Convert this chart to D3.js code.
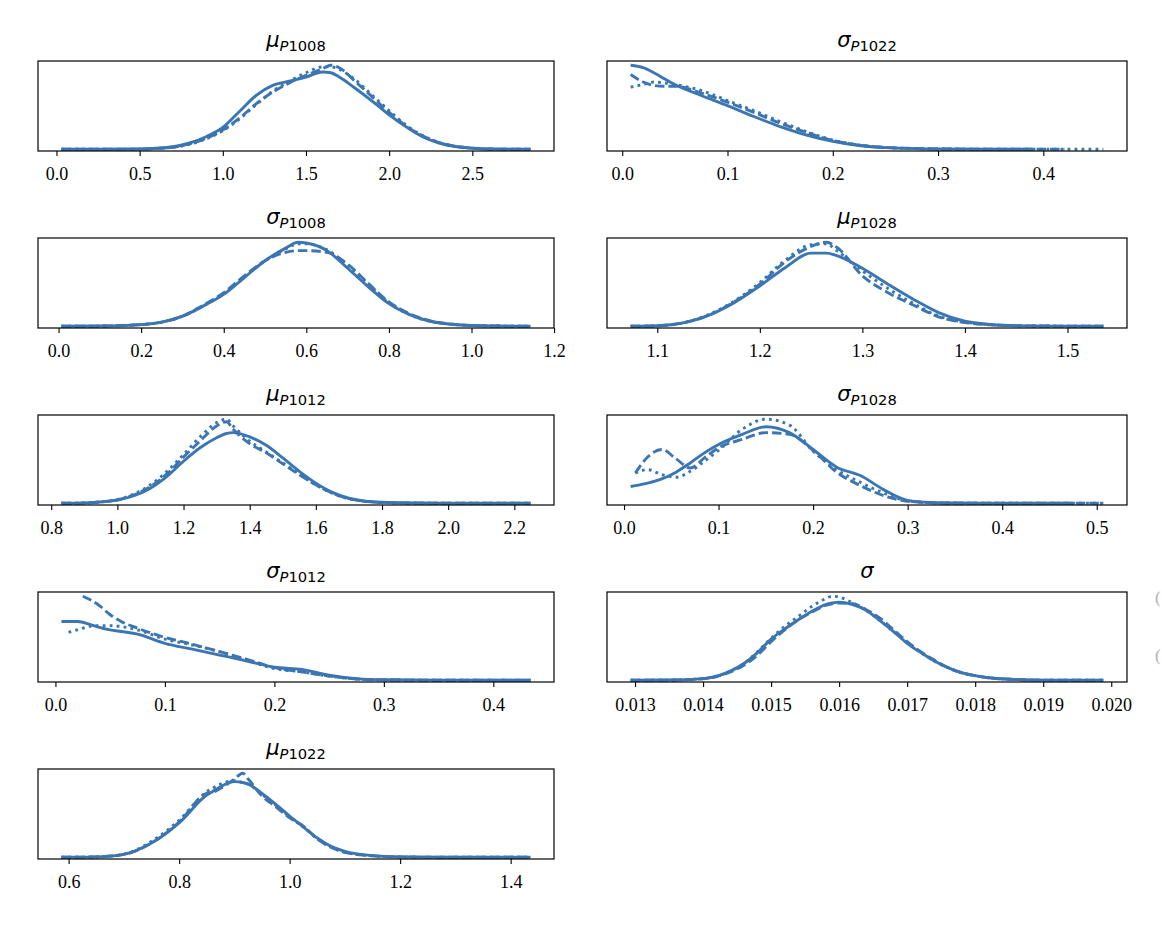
<!DOCTYPE html>
<html>
<head>
<meta charset="utf-8">
<script src="https://cdn.jsdelivr.net/npm/d3@7"></script>
<style>
  body { margin: 0; background: #fff; }
  svg { display: block; }
</style>
</head>
<body>
<div id="chart"></div>
<script>
// Density curves per panel: shared x grid, one height list per chain (solid, dashed, dotted)
const muP1008_x      = [0.03, 0.3, 0.5, 0.6, 0.7, 0.8, 0.9, 1.0, 1.1, 1.2, 1.3, 1.4, 1.5, 1.6, 1.65, 1.7, 1.8, 1.9, 2.0, 2.1, 2.2, 2.3, 2.4, 2.5, 2.6, 2.85];
const muP1008_solid  = [0, 0.001, 0.004, 0.012, 0.03, 0.075, 0.15, 0.26, 0.45, 0.64, 0.76, 0.81, 0.86, 0.92, 0.91, 0.86, 0.72, 0.57, 0.41, 0.27, 0.15, 0.075, 0.033, 0.013, 0.004, 0];
const muP1008_dashed = [0, 0.001, 0.003, 0.01, 0.025, 0.065, 0.13, 0.23, 0.37, 0.54, 0.68, 0.79, 0.88, 0.96, 1.0, 0.97, 0.80, 0.62, 0.44, 0.28, 0.16, 0.08, 0.035, 0.014, 0.004, 0];
const muP1008_dotted = [0, 0.001, 0.003, 0.01, 0.024, 0.06, 0.125, 0.22, 0.36, 0.53, 0.69, 0.81, 0.91, 0.98, 0.98, 0.95, 0.82, 0.64, 0.46, 0.29, 0.165, 0.08, 0.035, 0.013, 0.004, 0];
const muP1008_ticks  = [0, 0.5, 1.0, 1.5, 2.0, 2.5];

const sdP1022_x      = [0.008, 0.02, 0.03, 0.04, 0.05, 0.075, 0.1, 0.125, 0.15, 0.175, 0.2, 0.225, 0.25, 0.3, 0.35, 0.39, 0.42, 0.457];
const sdP1022_solid  = [1.0, 0.97, 0.91, 0.84, 0.77, 0.64, 0.52, 0.39, 0.27, 0.17, 0.095, 0.045, 0.02, 0.004, 0.001, 0, null, null];
const sdP1022_dashed = [0.89, 0.80, 0.76, 0.75, 0.75, 0.67, 0.56, 0.44, 0.31, 0.20, 0.105, 0.05, 0.022, 0.005, 0.001, 0, 0, null];
const sdP1022_dotted = [0.74, 0.77, 0.80, 0.79, 0.77, 0.70, 0.58, 0.46, 0.33, 0.21, 0.11, 0.052, 0.022, 0.005, 0.001, 0, 0, 0];
const sdP1022_ticks  = [0, 0.1, 0.2, 0.3, 0.4];

const sdP1008_x      = [0.007, 0.1, 0.2, 0.25, 0.3, 0.35, 0.4, 0.45, 0.5, 0.55, 0.58, 0.6, 0.65, 0.7, 0.75, 0.8, 0.85, 0.9, 0.95, 1.0, 1.143];
const sdP1008_solid  = [0, 0.003, 0.02, 0.05, 0.12, 0.24, 0.38, 0.58, 0.78, 0.93, 1.0, 0.99, 0.90, 0.69, 0.47, 0.27, 0.14, 0.06, 0.025, 0.01, 0];
const sdP1008_dashed = [0, 0.003, 0.02, 0.05, 0.12, 0.25, 0.40, 0.60, 0.78, 0.88, 0.90, 0.90, 0.88, 0.74, 0.51, 0.29, 0.15, 0.065, 0.027, 0.01, 0];
const sdP1008_dotted = [0, 0.003, 0.02, 0.05, 0.12, 0.24, 0.39, 0.59, 0.78, 0.92, 0.98, 0.98, 0.91, 0.72, 0.50, 0.28, 0.14, 0.06, 0.025, 0.01, 0];
const sdP1008_ticks  = [0, 0.2, 0.4, 0.6, 0.8, 1.0, 1.2];

const muP1028_x      = [1.074, 1.1, 1.125, 1.15, 1.175, 1.2, 1.225, 1.25, 1.265, 1.275, 1.3, 1.325, 1.35, 1.375, 1.4, 1.425, 1.45, 1.5, 1.535];
const muP1028_solid  = [0, 0.006, 0.04, 0.13, 0.28, 0.48, 0.70, 0.87, 0.87, 0.84, 0.69, 0.50, 0.32, 0.16, 0.06, 0.022, 0.008, 0.002, 0];
const muP1028_dashed = [0, 0.006, 0.04, 0.13, 0.29, 0.50, 0.77, 0.95, 1.0, 0.94, 0.60, 0.40, 0.25, 0.11, 0.045, 0.018, 0.007, 0.002, 0];
const muP1028_dotted = [0, 0.006, 0.04, 0.14, 0.30, 0.52, 0.79, 0.97, 0.98, 0.90, 0.66, 0.45, 0.27, 0.12, 0.05, 0.02, 0.007, 0.002, 0];
const muP1028_ticks  = [1.1, 1.2, 1.3, 1.4, 1.5];

const muP1012_x      = [0.831, 0.9, 1.0, 1.05, 1.1, 1.15, 1.2, 1.25, 1.3, 1.33, 1.35, 1.4, 1.45, 1.5, 1.55, 1.6, 1.65, 1.7, 1.75, 1.8, 1.9, 2.0, 2.249];
const muP1012_solid  = [0, 0.005, 0.04, 0.09, 0.18, 0.32, 0.50, 0.66, 0.78, 0.83, 0.84, 0.79, 0.69, 0.54, 0.38, 0.24, 0.13, 0.06, 0.025, 0.012, 0.004, 0.001, 0];
const muP1012_dashed = [0, 0.005, 0.04, 0.10, 0.20, 0.35, 0.55, 0.74, 0.92, 0.97, 0.88, 0.71, 0.60, 0.47, 0.34, 0.22, 0.12, 0.055, 0.023, 0.01, 0.003, 0.001, 0];
const muP1012_dotted = [0, 0.005, 0.045, 0.11, 0.22, 0.38, 0.58, 0.79, 0.96, 1.0, 0.92, 0.74, 0.61, 0.48, 0.35, 0.22, 0.12, 0.055, 0.023, 0.01, 0.003, 0.001, 0];
const muP1012_ticks  = [0.8, 1.0, 1.2, 1.4, 1.6, 1.8, 2.0, 2.2];

const sdP1028_x      = [0.007, 0.012, 0.025, 0.04, 0.055, 0.07, 0.085, 0.1, 0.125, 0.15, 0.175, 0.2, 0.225, 0.25, 0.275, 0.3, 0.325, 0.35, 0.4, 0.475, 0.507];
const sdP1028_solid  = [0.20, 0.21, 0.24, 0.29, 0.37, 0.48, 0.60, 0.70, 0.82, 0.91, 0.84, 0.64, 0.43, 0.33, 0.16, 0.035, 0.01, 0.004, 0.001, 0, null];
const sdP1028_dashed = [null, 0.36, 0.55, 0.64, 0.53, 0.42, 0.54, 0.66, 0.76, 0.84, 0.82, 0.63, 0.37, 0.21, 0.09, 0.025, 0.007, 0.003, 0.001, 0, 0];
const sdP1028_dotted = [null, 0.36, 0.40, 0.34, 0.31, 0.38, 0.50, 0.63, 0.88, 1.0, 0.93, 0.62, 0.40, 0.25, 0.12, 0.03, 0.008, 0.003, 0.001, 0, 0];
const sdP1028_ticks  = [0, 0.1, 0.2, 0.3, 0.4, 0.5];

const sdP1012_x      = [0.0055, 0.012, 0.02, 0.025, 0.03, 0.04, 0.05, 0.06, 0.075, 0.1, 0.125, 0.15, 0.175, 0.2, 0.225, 0.25, 0.275, 0.3, 0.35, 0.434];
const sdP1012_solid  = [0.70, 0.70, 0.70, 0.69, 0.67, 0.63, 0.60, 0.58, 0.55, 0.44, 0.37, 0.30, 0.23, 0.155, 0.13, 0.06, 0.02, 0.006, 0.002, 0];
const sdP1012_dashed = [null, null, null, 1.0, 0.97, 0.89, 0.78, 0.70, 0.62, 0.51, 0.43, 0.34, 0.25, 0.15, 0.10, 0.05, 0.015, 0.005, 0.001, 0];
const sdP1012_dotted = [null, 0.57, 0.60, 0.62, 0.64, 0.65, 0.65, 0.64, 0.60, 0.49, 0.42, 0.34, 0.24, 0.14, 0.10, 0.05, 0.015, 0.005, 0.001, 0];
const sdP1012_ticks  = [0, 0.1, 0.2, 0.3, 0.4];

const sigma_x      = [0.012935, 0.0135, 0.014, 0.0142, 0.0144, 0.0146, 0.0148, 0.015, 0.0152, 0.0154, 0.0156, 0.0158, 0.0159, 0.016, 0.0162, 0.0164, 0.0166, 0.0168, 0.017, 0.0172, 0.0174, 0.0176, 0.0178, 0.018, 0.0182, 0.0185, 0.019, 0.019884];
const sigma_solid  = [0, 0.003, 0.02, 0.05, 0.11, 0.20, 0.33, 0.49, 0.61, 0.72, 0.82, 0.90, 0.92, 0.93, 0.90, 0.83, 0.71, 0.58, 0.44, 0.33, 0.23, 0.15, 0.09, 0.055, 0.03, 0.013, 0.002, 0];
const sigma_dashed = [0, 0.003, 0.018, 0.045, 0.10, 0.18, 0.30, 0.46, 0.60, 0.72, 0.81, 0.89, 0.91, 0.92, 0.91, 0.84, 0.74, 0.60, 0.46, 0.34, 0.24, 0.15, 0.09, 0.055, 0.03, 0.013, 0.002, 0];
const sigma_dotted = [0, 0.003, 0.02, 0.05, 0.11, 0.20, 0.34, 0.50, 0.64, 0.76, 0.88, 0.97, 1.0, 0.99, 0.92, 0.83, 0.71, 0.58, 0.45, 0.33, 0.23, 0.15, 0.09, 0.055, 0.03, 0.013, 0.002, 0];
const sigma_ticks  = [0.013, 0.014, 0.015, 0.016, 0.017, 0.018, 0.019, 0.020];

const muP1022_x      = [0.587, 0.65, 0.7, 0.75, 0.8, 0.85, 0.86, 0.875, 0.9, 0.915, 0.925, 0.95, 0.975, 1.0, 1.025, 1.05, 1.075, 1.1, 1.15, 1.2, 1.3, 1.436];
const muP1022_solid  = [0, 0.005, 0.035, 0.17, 0.41, 0.74, 0.78, 0.84, 0.90, 0.89, 0.87, 0.76, 0.63, 0.49, 0.36, 0.23, 0.13, 0.07, 0.02, 0.005, 0.001, 0];
const muP1022_dashed = [0, 0.005, 0.035, 0.17, 0.42, 0.76, 0.77, 0.82, 0.93, 1.0, 0.93, 0.73, 0.60, 0.47, 0.37, 0.22, 0.12, 0.06, 0.018, 0.005, 0.001, 0];
const muP1022_dotted = [0, 0.005, 0.038, 0.19, 0.44, 0.78, 0.82, 0.87, 0.91, 0.89, 0.87, 0.75, 0.62, 0.48, 0.36, 0.22, 0.12, 0.06, 0.018, 0.005, 0.001, 0];
const muP1022_ticks  = [0.6, 0.8, 1.0, 1.2, 1.4];

// panel list: [symbol, subscript, x, series, ticks, format]
const panelList = [
  ['μ', 'P1008', muP1008_x, [muP1008_solid, muP1008_dashed, muP1008_dotted], muP1008_ticks, '.1f'],
  ['σ', 'P1022', sdP1022_x, [sdP1022_solid, sdP1022_dashed, sdP1022_dotted], sdP1022_ticks, '.1f'],
  ['σ', 'P1008', sdP1008_x, [sdP1008_solid, sdP1008_dashed, sdP1008_dotted], sdP1008_ticks, '.1f'],
  ['μ', 'P1028', muP1028_x, [muP1028_solid, muP1028_dashed, muP1028_dotted], muP1028_ticks, '.1f'],
  ['μ', 'P1012', muP1012_x, [muP1012_solid, muP1012_dashed, muP1012_dotted], muP1012_ticks, '.1f'],
  ['σ', 'P1028', sdP1028_x, [sdP1028_solid, sdP1028_dashed, sdP1028_dotted], sdP1028_ticks, '.1f'],
  ['σ', 'P1012', sdP1012_x, [sdP1012_solid, sdP1012_dashed, sdP1012_dotted], sdP1012_ticks, '.1f'],
  ['σ', '',      sigma_x,   [sigma_solid, sigma_dashed, sigma_dotted],         sigma_ticks,   '.3f'],
  ['μ', 'P1022', muP1022_x, [muP1022_solid, muP1022_dashed, muP1022_dotted], muP1022_ticks, '.1f']
];

const width = 1162, height = 932;
const lineColor = '#3b75b2';
const dashes = [null, '9.5,4', '2.8,4.2'];
const colLeft = [38, 607], colWidth = [516, 520];
const rowTop = [61, 238, 415, 592, 769], boxH = 90;

const svg = d3.select('#chart').append('svg')
  .attr('width', width)
  .attr('height', height);

panelList.forEach((p, i) => {
  const [sym, sub, xs, series, ticks, fmt] = p;
  const col = i % 2, row = Math.floor(i / 2);
  const w = colWidth[col];
  const g = svg.append('g')
    .attr('transform', `translate(${colLeft[col]},${rowTop[row]})`);

  // x extent from the data, padded 5% like matplotlib
  const lo = d3.min(xs), hi = d3.max(xs);
  const pad = (hi - lo) * 0.05;
  const x = d3.scaleLinear().domain([lo - pad, hi + pad]).range([0, w]);
  const ymax = d3.max(series.flat().filter(v => v != null));
  const y = d3.scaleLinear().domain([-0.02 * ymax, 1.05 * ymax]).range([boxH, 0]);

  g.append('clipPath').attr('id', 'clip' + i)
    .append('rect').attr('width', w).attr('height', boxH);

  const line = d3.line()
    .defined(d => d[1] != null)
    .x(d => x(d[0]))
    .y(d => y(d[1]))
    .curve(d3.curveMonotoneX);

  series.forEach((vals, k) => {
    g.append('path')
      .datum(xs.map((v, j) => [v, vals[j]]))
      .attr('clip-path', `url(#clip${i})`)
      .attr('d', line)
      .attr('fill', 'none')
      .attr('stroke', lineColor)
      .attr('stroke-width', 2.9)
      .attr('stroke-dasharray', dashes[k]);
  });

  g.append('rect')
    .attr('width', w)
    .attr('height', boxH)
    .attr('fill', 'none')
    .attr('stroke', '#000')
    .attr('stroke-width', 1.2);

  const axis = g.append('g')
    .attr('transform', `translate(0,${boxH})`)
    .call(d3.axisBottom(x).tickValues(ticks).tickFormat(d3.format(fmt)).tickSize(5).tickPadding(11));
  axis.select('.domain').remove();
  axis.selectAll('line').attr('stroke', '#000').attr('stroke-width', 1.1);
  axis.selectAll('text')
    .attr('fill', '#000')
    .style('font-family', '"Liberation Serif", "Times New Roman", serif')
    .style('font-size', '18px');

  const title = g.append('text')
    .attr('x', w / 2)
    .attr('y', -14)
    .attr('text-anchor', 'middle')
    .style('font-family', '"DejaVu Sans", sans-serif')
    .attr('fill', '#000');
  title.append('tspan').style('font-style', 'italic').style('font-size', '21px').text(sym);
  if (sub) {
    title.append('tspan').attr('dy', 4).style('font-style', 'italic').style('font-size', '14.7px').text(sub[0]);
    title.append('tspan').style('font-size', '14.7px').text(sub.slice(1));
  }
});

// edge of a cropped neighbouring column
svg.selectAll('text.cut')
  .data([597, 655])
  .enter().append('text')
  .attr('class', 'cut')
  .attr('x', 1155)
  .attr('y', d => d + 6)
  .attr('fill', '#b0b0b0')
  .style('font-family', '"Liberation Serif", serif')
  .style('font-size', '17px')
  .text('(');
</script>
</body>
</html>
